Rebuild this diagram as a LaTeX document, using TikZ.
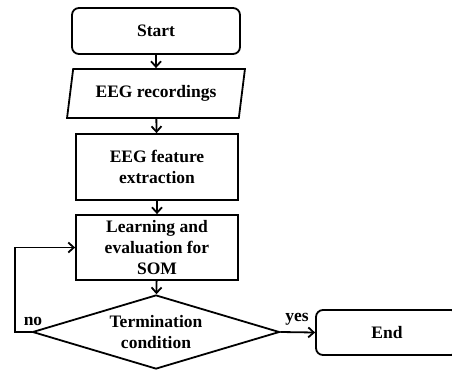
\documentclass[tikz,border=0pt]{standalone}
\usepackage{fontspec}
\setmainfont{Liberation Serif}
\usetikzlibrary{shapes.geometric,arrows.meta}

\begin{document}
\begin{tikzpicture}[x=1pt, y=-1pt, line width=1.8pt, >={Straight Barb[length=5.5pt,width=10pt]},
    every node/.style={draw, align=center, inner sep=2pt, font=\bfseries\fontsize{17.5}{21}\selectfont},
    lbl/.style={draw=none, inner sep=0pt}]
  \useasboundingbox (0,0) rectangle (452,370);
  \clip (0,0) rectangle (452,370);
  \node [rounded corners=7pt, minimum width=168pt, minimum height=46pt] (start) at (156,31) {Start};
  \node [trapezium, trapezium stretches=true, trapezium left angle=77, trapezium right angle=103,
         minimum width=178pt, minimum height=49pt] (rec) at (156,93.5) {EEG recordings};
  \node [minimum width=162pt, minimum height=66pt] (feat) at (157,167) {EEG feature\\extraction};
  \node [minimum width=162pt, minimum height=65pt] (learn) at (157,247.5) {Learning and\\evaluation for\\SOM};
  \node [diamond, aspect=3.3, inner sep=0pt, minimum width=247pt, minimum height=74pt] (term) at (156,332) {Termination\\condition};
  \node [rounded corners=7pt, minimum width=142pt, minimum height=45pt] (end) at (387,332.5) {End};
  \node [lbl] (no) at (33,321) {no};
  \node [lbl] (yes) at (297,319) {yes};
  \draw [->] (start) -- (rec);
  \draw [->] (rec) -- (feat);
  \draw [->] (feat) -- (learn);
  \draw [->] (learn) -- (term);
  \draw [->] (term.east) -- (end.west);
  \draw [->] (term.west) -- ++(-17,0) |- (learn.west);
\end{tikzpicture}
\end{document}
